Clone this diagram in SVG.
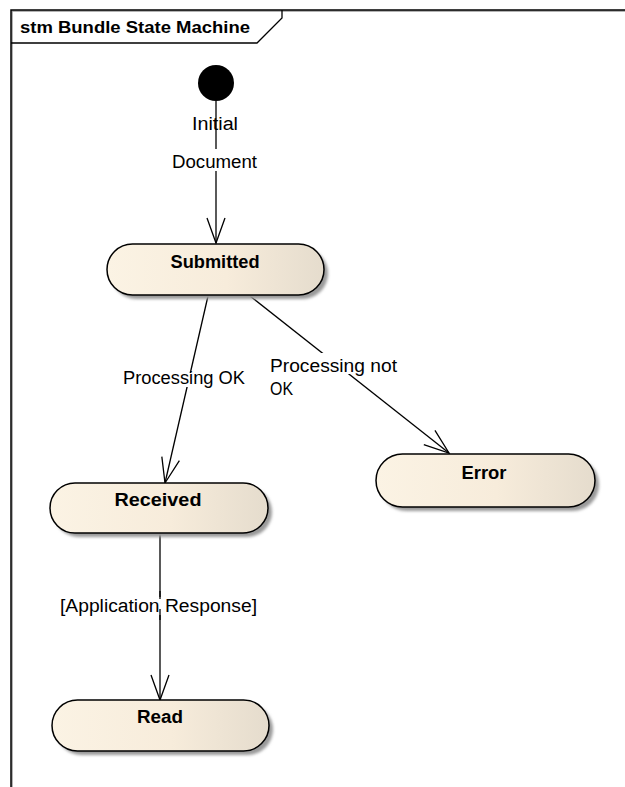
<svg xmlns="http://www.w3.org/2000/svg" width="625" height="787" viewBox="0 0 625 787">
<style>
.lbl{font-family:"Liberation Sans",Arial,sans-serif;font-size:18px;fill:#000}
.ttl{font-family:"Liberation Sans",Arial,sans-serif;font-size:17px;font-weight:bold;fill:#000}
.nm{font-family:"Liberation Sans",Arial,sans-serif;font-size:18px;font-weight:bold;fill:#000;text-anchor:middle}
.st{fill:url(#g);stroke:#000;stroke-width:1.5}
.sh{fill:#9a9a9a;filter:url(#b)}
.cn{stroke:#000;stroke-width:1.3;fill:none}
</style>
<defs>
<linearGradient id="g" x1="0" y1="0" x2="1" y2="0">
<stop offset="0" stop-color="#fbf3e4"/>
<stop offset="0.55" stop-color="#f7ecdb"/>
<stop offset="1" stop-color="#e5dccd"/>
</linearGradient>
<filter id="b" x="-10%" y="-30%" width="120%" height="160%"><feGaussianBlur stdDeviation="1.5"/></filter>
<marker id="a" markerUnits="userSpaceOnUse" markerWidth="32" markerHeight="24" viewBox="-28 -12 32 24" refX="0" refY="0" orient="auto">
<path d="M-25,-9 L0,0 L-25,9" fill="none" stroke="#000" stroke-width="1.3"/>
</marker>
</defs>
<rect width="625" height="787" fill="#fff"/>
<g id="frame">
<path d="M11,787 L11,10 L625,10" fill="none" stroke="#9a9a9a" stroke-width="1.5" transform="translate(1,1)"/>
<path d="M11,787 L11,10 L625,10" fill="none" stroke="#000" stroke-width="1.5"/>
<path d="M11,43 L257,43 L282,18 L282,10" fill="none" stroke="#000" stroke-width="1.3"/>
<text class="ttl" x="20" y="33" textLength="230" lengthAdjust="spacingAndGlyphs">stm Bundle State Machine</text>
</g>
<g id="connectors">
<line class="cn" x1="216" y1="101" x2="216" y2="243" marker-end="url(#a)"/>
<line class="cn" x1="208" y1="296" x2="165" y2="483" marker-end="url(#a)"/>
<line class="cn" x1="250" y1="296" x2="449" y2="453" marker-end="url(#a)"/>
<line class="cn" x1="160" y1="534" x2="160" y2="700" marker-end="url(#a)"/>
<text class="lbl" x="192" y="130" textLength="46" lengthAdjust="spacingAndGlyphs">Initial</text>
<rect x="170" y="149" width="90" height="22" fill="#fff"/>
<text class="lbl" x="172" y="168" textLength="85" lengthAdjust="spacingAndGlyphs">Document</text>
<rect x="121" y="373" width="126" height="14" fill="#fff"/>
<text class="lbl" x="123" y="384" textLength="122" lengthAdjust="spacingAndGlyphs">Processing OK</text>
<rect x="268" y="353" width="131" height="21" fill="#fff"/>
<text class="lbl" x="270" y="372" textLength="127" lengthAdjust="spacingAndGlyphs">Processing  not</text>
<text class="lbl" x="270" y="395" textLength="23" lengthAdjust="spacingAndGlyphs">OK</text>
<rect x="58" y="597" width="201" height="18" fill="#fff"/>
<text class="lbl" x="60" y="612" textLength="197" lengthAdjust="spacingAndGlyphs">[Application Response]</text>
<line class="cn" x1="160" y1="591" x2="160" y2="599"/>
<line class="cn" x1="160" y1="609" x2="160" y2="620"/>
</g>
<g id="initial">
<circle cx="216" cy="83" r="18" fill="#000"/>
</g>
<g id="submitted">
<rect class="sh" x="111" y="248" width="217" height="51" rx="25.5"/>
<rect class="st" x="107" y="244" width="217" height="51" rx="25.5"/>
<text class="nm" x="215" y="268" textLength="89" lengthAdjust="spacingAndGlyphs">Submitted</text>
</g>
<g id="received">
<rect class="sh" x="54" y="487" width="218" height="50" rx="25"/>
<rect class="st" x="50" y="483" width="218" height="50" rx="25"/>
<text class="nm" x="158" y="506" textLength="87" lengthAdjust="spacingAndGlyphs">Received</text>
</g>
<g id="error">
<rect class="sh" x="380" y="458" width="219" height="53" rx="26.5"/>
<rect class="st" x="376" y="454" width="219" height="53" rx="26.5"/>
<text class="nm" x="484" y="479" textLength="45" lengthAdjust="spacingAndGlyphs">Error</text>
</g>
<g id="read">
<rect class="sh" x="56" y="704" width="217" height="51" rx="25.5"/>
<rect class="st" x="52" y="700" width="217" height="51" rx="25.5"/>
<text class="nm" x="160" y="723" textLength="46" lengthAdjust="spacingAndGlyphs">Read</text>
</g>
</svg>
